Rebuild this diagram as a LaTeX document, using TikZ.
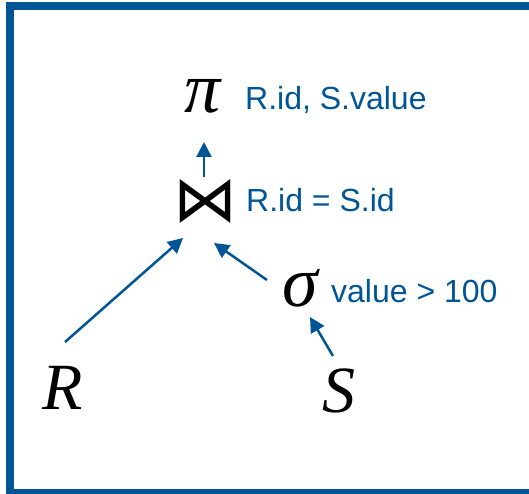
\documentclass[tikz,border=0pt]{standalone}
\usepackage{fontspec}
\usetikzlibrary{arrows.meta}
\newfontfamily\lblfont{Liberation Sans}
\newfontfamily\opfont{Liberation Serif}
\newfontfamily\symfont{DejaVu Sans}
\definecolor{dbblue}{RGB}{0,85,150}

\begin{document}
\begin{tikzpicture}[x=1pt, y=1pt,
        op/.style={inner sep=0, font=\opfont\itshape\fontsize{66}{66}\selectfont},
        greek/.style={inner sep=0, font=\opfont\itshape\fontsize{72}{72}\selectfont},
        joinop/.style={inner sep=0, font=\symfont\fontsize{64}{64}\selectfont},
        lbl/.style={anchor=base west, inner sep=0, text=dbblue, font=\lblfont\fontsize{32}{32}\selectfont},
        arr/.style={draw=dbblue, line width=2.5pt, -{Triangle[length=15pt,width=15pt]}},
    ]
    \useasboundingbox (0,0) rectangle (529,493);

    % Frame
    \draw[dbblue, line width=8pt] (10,487) rectangle (545,0);

    % Operators and relations
    \node[greek] (proj) at (203,397) {π};
    \node[joinop] (jn) at (205,292) {⋈};
    \node[greek] (sel) at (300,205) {σ};
    \node[op] (relR) at (63,105) {R};
    \node[op] (relS) at (339,102) {S};

    % Conditions
    \node[lbl] (projlbl) at (245,383) {R.id, S.value};
    \node[lbl] (jnlbl) at (246,281) {R.id = S.id};
    \node[lbl] (sellbl) at (331,191) {value > 100};

    % Edges of the plan
    \draw[arr] ([shift={(-1,24)}]jn.center) -- ([shift={(1,-46)}]proj.center);
    \draw[arr] ([shift={(2,46)}]relR.center) -- ([shift={(-22,-37)}]jn.center);
    \draw[arr] ([shift={(-33,8)}]sel.center) -- ([shift={(9,-42)}]jn.center);
    \draw[arr] ([shift={(-6,35)}]relS.center) -- ([shift={(10,-29)}]sel.center);
\end{tikzpicture}
\end{document}
